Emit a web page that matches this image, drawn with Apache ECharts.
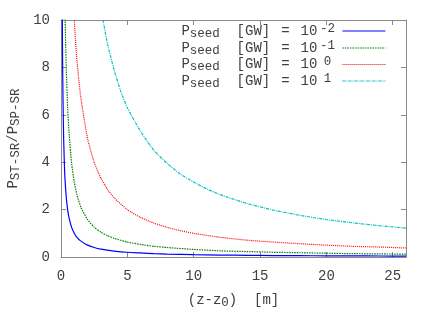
<!DOCTYPE html>
<html><head><meta charset="utf-8">
<script src="https://cdn.jsdelivr.net/npm/echarts@6/dist/echarts.min.js"></script>
<style>html,body{margin:0;padding:0;background:#fff}#c{width:436px;height:327px}</style>
</head><body><div id="c"></div>
<script>
const zBlue  = [0.08,0.1,0.12,0.15,0.2,0.25,0.3,0.4,0.5,0.6,0.8,1,1.2,1.5,2,2.5,3,3.5,4,5,6,7,8,10,12,14,16,18,20,22,24,26];
const yBlue  = [12.5,10,8.3,6.7,5,4,3.3,2.5,2,1.67,1.25,1,0.83,0.67,0.5,0.4,0.33,0.29,0.25,0.2,0.17,0.14,0.125,0.1,0.083,0.071,0.062,0.056,0.05,0.045,0.042,0.038];
const zGreen = [0.28,0.3,0.35,0.4,0.5,0.6,0.8,1,1.2,1.5,2,2.5,3,3.5,4,5,6,7,8,10,12,14,16,18,20,22,24,26];
const yGreen = [11.3,10.5,9.0,7.9,6.3,5.3,3.95,3.16,2.63,2.1,1.58,1.26,1.05,0.9,0.79,0.63,0.53,0.45,0.4,0.32,0.26,0.23,0.2,0.18,0.16,0.14,0.13,0.12];
const zRed   = [0.9,1,1.2,1.5,2,2.5,3,3.5,4,5,6,7,8,9,10,12,14,16,18,20,22,24,26];
const yRed   = [11.1,10,8.3,6.7,5,4,3.33,2.86,2.5,2,1.67,1.43,1.25,1.11,1,0.83,0.71,0.63,0.56,0.5,0.45,0.42,0.38];
const zCyan  = [3,3.2,3.5,4,4.5,5,6,7,8,9,10,11,12,14,16,18,20,22,24,26];
const yCyan  = [10.5,9.9,9.0,7.9,7.0,6.3,5.3,4.5,3.95,3.5,3.16,2.87,2.63,2.26,1.98,1.76,1.58,1.44,1.32,1.22];
const seriesNames = ['10^-2','10^-1','10^0','10^1'];
const supLabels = ['-2','-1','0','1'];
const xTicks = [0,5,10,15,20,25];

const FONT = 'Liberation Mono';
const TXT = '#404040';
const AX = '#8a8a8a';
const pair = (xs, ys) => xs.map((x, i) => [x, ys[i]]);
const colors = ['#0000ff', '#008000', '#ff0000', '#00c0c0'];
const types = ['solid', [1.5, 1], [1, 1], [3, 1, 1, 1]];
const dataSets = [pair(zBlue, yBlue), pair(zGreen, yGreen), pair(zRed, yRed), pair(zCyan, yCyan)];

const richLeg = {
  m: { fontFamily: FONT, fontSize: 14, color: TXT, lineHeight: 18 },
  s: { fontFamily: FONT, fontSize: 12.5, color: TXT, verticalAlign: 'bottom', lineHeight: 10 },
  p: { fontFamily: FONT, fontSize: 12.5, color: TXT, verticalAlign: 'top', lineHeight: 10, width: 20, align: 'left' },
  g: { width: 11 }
};
const legendTops = [22, 39, 55.5, 72];
const legends = seriesNames.map((n, i) => ({
  data: [n], right: 50, top: legendTops[i], orient: 'vertical', align: 'right',
  padding: 0, itemWidth: 43, itemHeight: 10, itemGap: 0,
  itemStyle: { opacity: 0 },
  lineStyle: { width: 1.2 },
  formatter: () => '{m|P}{s|seed}{m|  [GW]}{g|}{m|=}{g|}{m|10}{p|' + supLabels[i] + '}',
  textStyle: { rich: richLeg }
}));

const axisBase = (min, max, interval) => ({
  type: 'value', min, max, interval,
  axisLine: { show: true, onZero: false, lineStyle: { color: AX, width: 1 } },
  axisTick: { show: true, inside: true, length: 5, lineStyle: { color: AX } },
  splitLine: { show: false }
});

const chart = echarts.init(document.getElementById('c'));
chart.setOption({
  animation: false,
  grid: { left: 61, right: 30, top: 20, bottom: 70, containLabel: false, outerBoundsMode: 'none' },
  legend: legends,
  xAxis: [
    Object.assign(axisBase(0, 26, 5), {
      position: 'bottom',
      axisLabel: { fontFamily: FONT, fontSize: 14, color: TXT, margin: 12, customValues: xTicks },
      axisTick: { show: true, inside: true, length: 5, lineStyle: { color: AX }, customValues: xTicks },
      name: '{m|(z-z}{s|0}{m|)  [m]}', nameLocation: 'middle', nameGap: 34,
      nameTextStyle: { rich: richLeg }
    }),
    Object.assign(axisBase(0, 26, 5), {
      position: 'top', axisLabel: { show: false },
      axisTick: { show: true, inside: true, length: 5, lineStyle: { color: AX }, customValues: xTicks }
    })
  ],
  yAxis: [
    Object.assign(axisBase(0, 10, 2), {
      position: 'left',
      axisLabel: { fontFamily: FONT, fontSize: 14, color: TXT, margin: 11 },
      name: '{m|P}{s|ST-SR}{m|/P}{s|SP-SR}', nameLocation: 'middle', nameGap: 34, nameRotate: 90,
      nameTextStyle: { rich: {
        m: { fontFamily: FONT, fontSize: 14, color: TXT, lineHeight: 18 },
        s: { fontFamily: FONT, fontSize: 12.5, color: TXT, verticalAlign: 'bottom', lineHeight: 10 }
      } }
    }),
    Object.assign(axisBase(0, 10, 2), { position: 'right', axisLabel: { show: false } })
  ],
  series: dataSets.map((d, i) => ({
    name: seriesNames[i], type: 'line', data: d, showSymbol: false, symbol: 'none',
    smooth: 0.2, clip: true,
    lineStyle: { color: colors[i], width: 1.2, type: types[i] },
    itemStyle: { color: colors[i] }
  }))
});
</script></body></html>
